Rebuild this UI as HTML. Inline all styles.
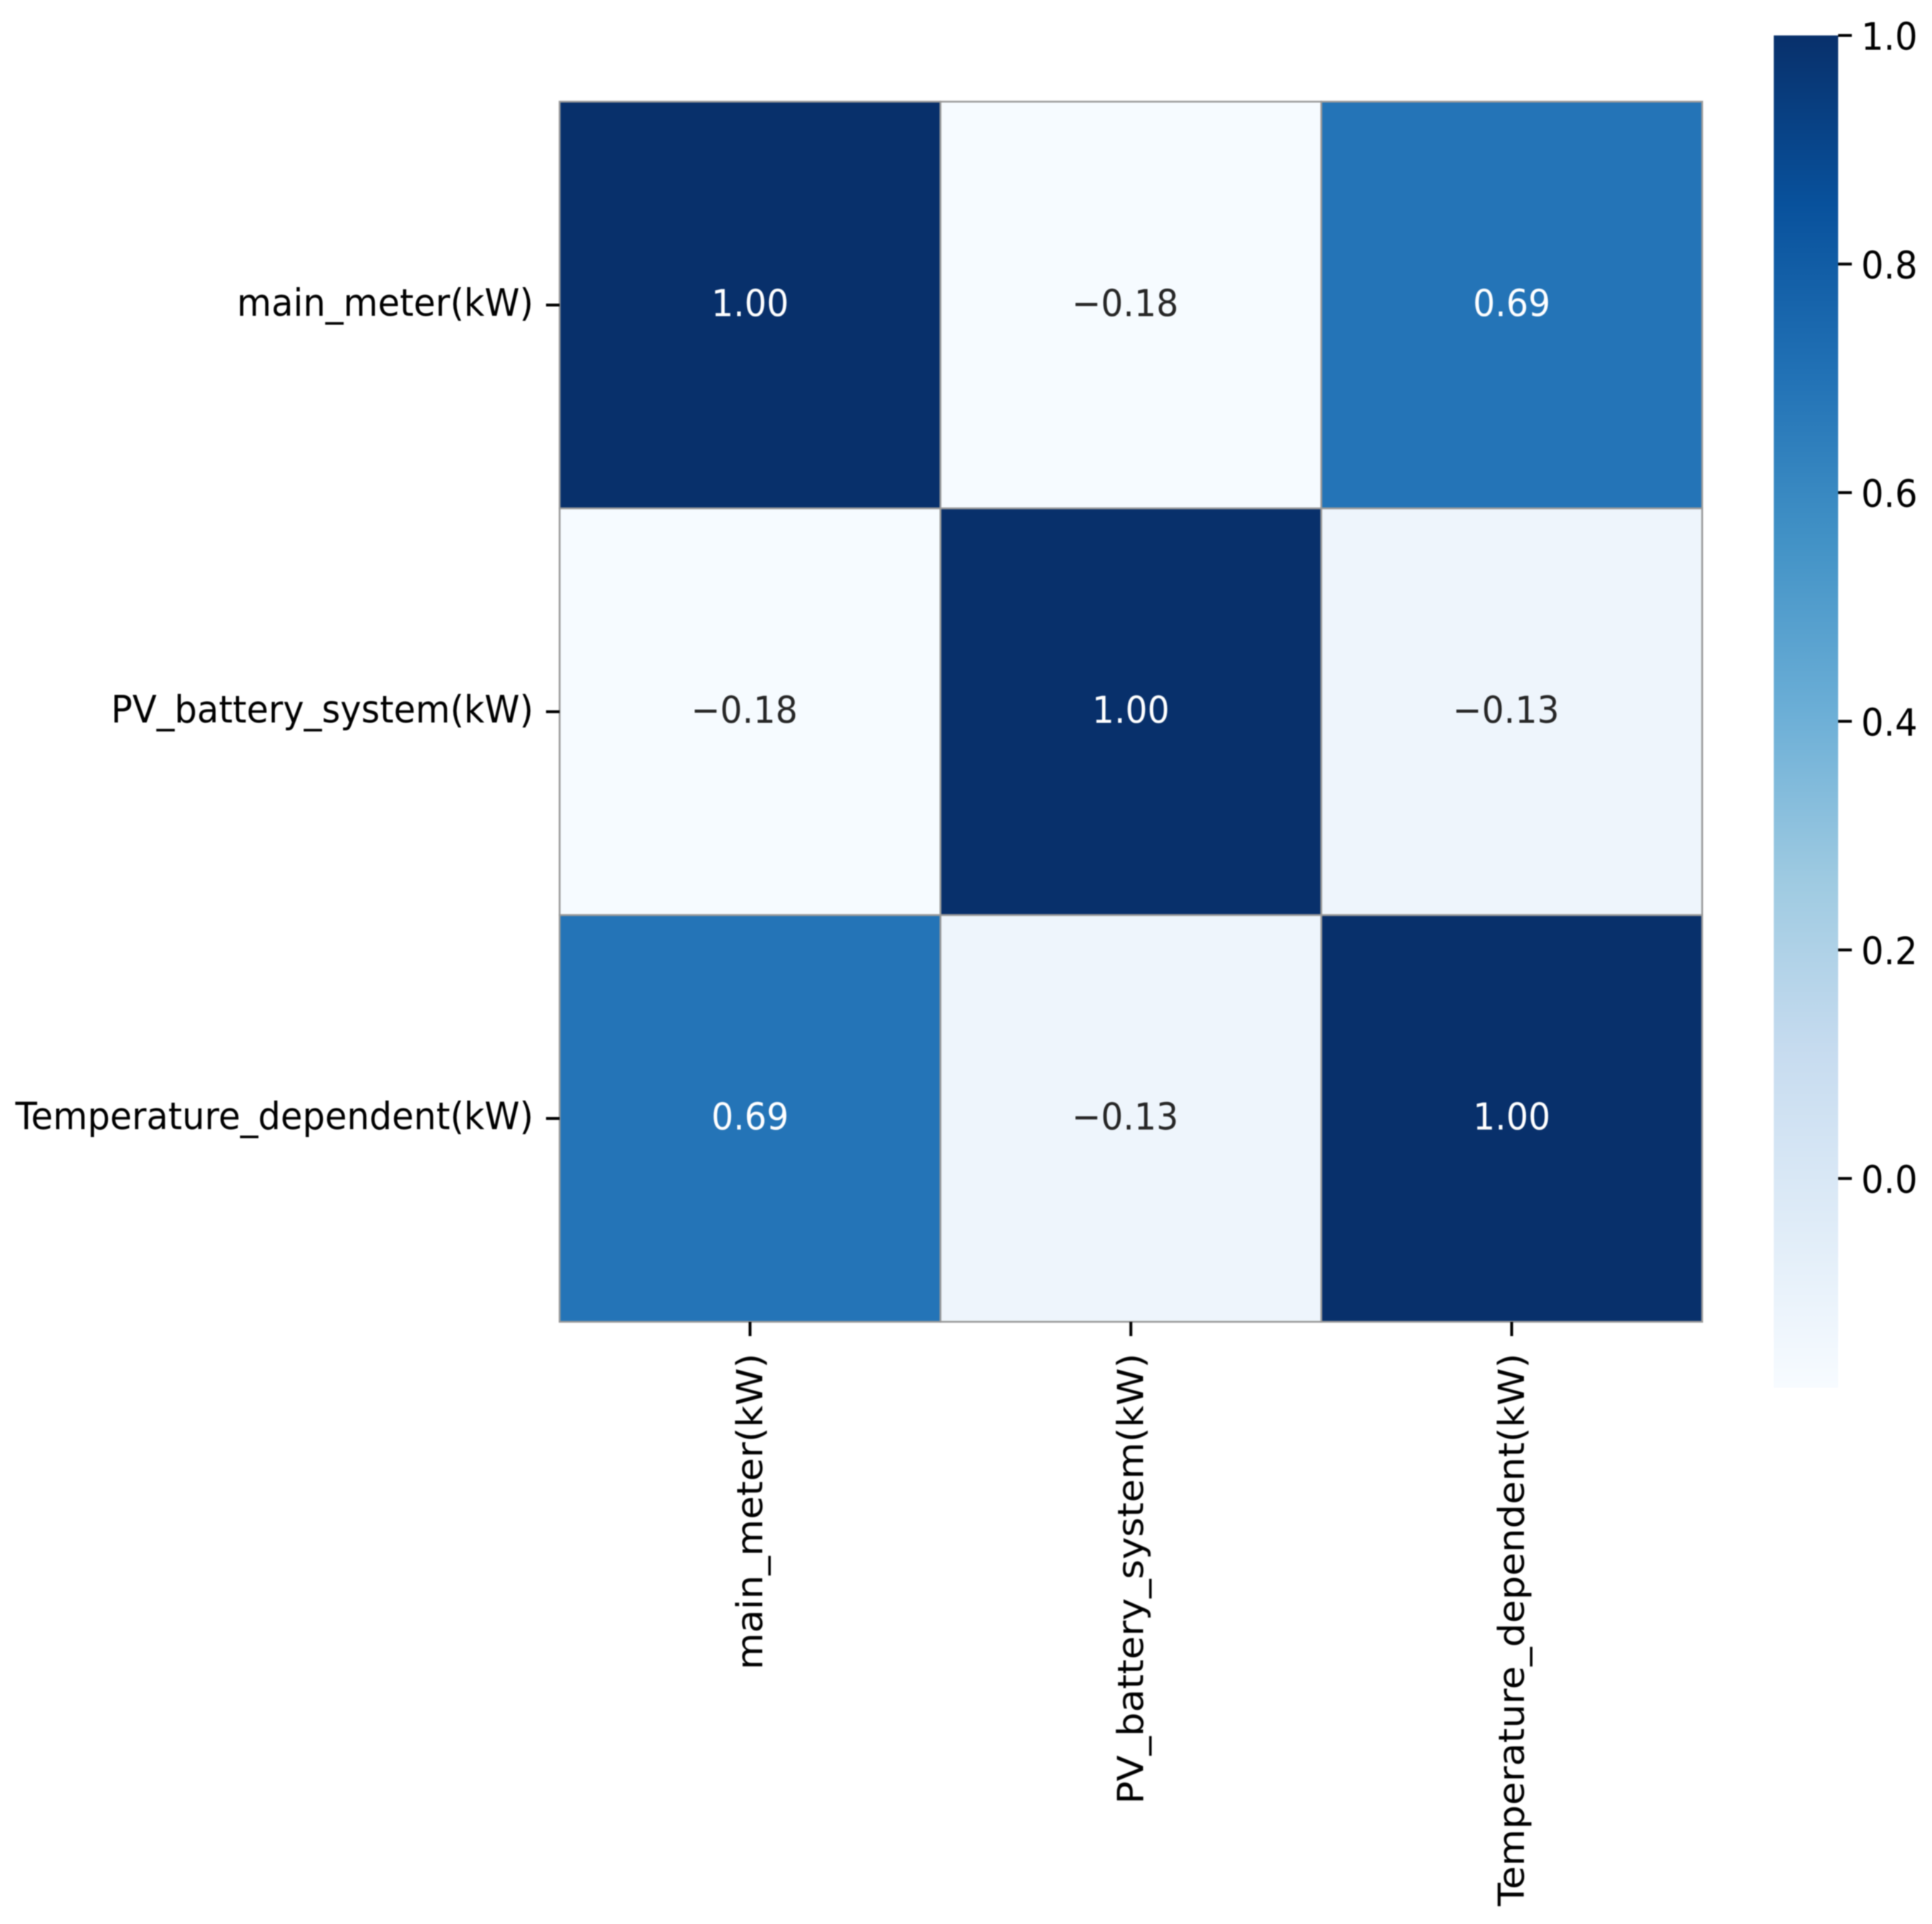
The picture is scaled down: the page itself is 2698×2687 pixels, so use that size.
<!DOCTYPE html>
<html lang="en">
<head>
<meta charset="utf-8">
<title>Correlation heatmap</title>
<style>
  html, body { margin: 0; padding: 0; background: #ffffff; }
  svg { display: block; }
  text { font-family: "DejaVu Sans", "Liberation Sans", sans-serif; }
</style>
</head>
<body>
<svg id="chart" xmlns="http://www.w3.org/2000/svg" width="2698" height="2687" viewBox="0 0 2698 2687">
  <defs>
    <linearGradient id="cbar-gradient" x1="0" y1="0" x2="0" y2="1"></linearGradient>
    <filter id="soften" x="-5%" y="-5%" width="110%" height="110%" color-interpolation-filters="sRGB"><feGaussianBlur stdDeviation="0.9"></feGaussianBlur></filter>
  </defs>
  <rect x="0" y="0" width="2698" height="2687" fill="#ffffff"></rect>
  <g id="root" filter="url(#soften)"></g>
</svg>
<script>
const categories = ["main_meter(kW)", "PV_battery_system(kW)", "Temperature_dependent(kW)"];
const rowOne = [1.00, -0.18, 0.69];
const rowTwo = [-0.18, 1.00, -0.13];
const rowThree = [0.69, -0.13, 1.00];
const matrix = [rowOne, rowTwo, rowThree];
const colorbarTicks = [1.0, 0.8, 0.6, 0.4, 0.2, 0.0];
const colorMin = -0.183;
const colorMax = 1.0;
const blues = ["#f7fbff", "#deebf7", "#c6dbef", "#9ecae1", "#6baed6", "#4292c6", "#2171b5", "#08519c", "#08306b"];

const NS = "http://www.w3.org/2000/svg";
const root = document.getElementById("root");
const plot = { left: 781.5, right: 2377, top: 142, bottom: 1846 };
const cbar = { left: 2477, right: 2567, top: 49.5, bottom: 1938 };
const stretchY = 1.067;
const axisFontSize = 49.6;
const annotFontSize = 48.6;

const xBand = (i) => plot.left + i * (plot.right - plot.left) / categories.length;
const yBand = (i) => plot.top + i * (plot.bottom - plot.top) / categories.length;
const cbarY = (v) => cbar.top + (colorMax - v) / (colorMax - colorMin) * (cbar.bottom - cbar.top);

function hexToRgb(h) {
  return [1, 3, 5].map((p) => parseInt(h.substr(p, 2), 16));
}
function colorFor(v) {
  const t = Math.max(0, Math.min(1, (v - colorMin) / (colorMax - colorMin))) * (blues.length - 1);
  const i = Math.min(blues.length - 2, Math.floor(t));
  const a = hexToRgb(blues[i]);
  const b = hexToRgb(blues[i + 1]);
  const f = t - i;
  return "rgb(" + a.map((c, k) => Math.round(c + (b[k] - c) * f)).join(",") + ")";
}
function shape(tag, attrs) {
  const el = document.createElementNS(NS, tag);
  Object.keys(attrs).forEach((k) => el.setAttribute(k, attrs[k]));
  return el;
}
function label(str, x, y, anchor, fill, rotated, size) {
  const t = shape("text", {
    transform: "translate(" + x + " " + y + ") scale(1 " + stretchY + ")" + (rotated ? " rotate(-90)" : ""),
    "text-anchor": anchor,
    "font-size": size,
    fill: fill
  });
  t.textContent = str;
  return t;
}
function fmt(v) {
  return (v < 0 ? "\u2212" : "") + Math.abs(v).toFixed(2);
}

/* heatmap cells and annotations */
matrix.forEach((row, r) => {
  row.forEach((v, c) => {
    const cell = shape("rect", {
      x: xBand(c), y: yBand(r),
      width: xBand(c + 1) - xBand(c), height: yBand(r + 1) - yBand(r),
      fill: colorFor(v), stroke: "#9a9a9a", "stroke-width": 2.5
    });
    
    
    root.appendChild(cell);
  });
});
matrix.forEach((row, r) => {
  row.forEach((v, c) => {
    const cx = (xBand(c) + xBand(c + 1)) / 2 - (v < 0 ? 8 : 0);
    const cy = (yBand(r) + yBand(r + 1)) / 2;
    const norm = (v - colorMin) / (colorMax - colorMin);
    const ann = label(fmt(v), cx, cy + 15.5, "middle", norm > 0.5 ? "#ffffff" : "#262626", false, annotFontSize);
    
    
    root.appendChild(ann);
  });
});

/* category ticks and labels */
categories.forEach((name, i) => {
  const yc = (yBand(i) + yBand(i + 1)) / 2;
  const xc = (xBand(i) + xBand(i + 1)) / 2;

  const yTick = shape("line", { x1: plot.left - 19, x2: plot.left, y1: yc, y2: yc, stroke: "#000000", "stroke-width": 4 });
  
  
  root.appendChild(yTick);

  const yLabel = label(name, 745, yc + 15, "end", "#000000", false, axisFontSize);
  
  
  root.appendChild(yLabel);

  const xTick = shape("line", { x1: xc, x2: xc, y1: plot.bottom, y2: plot.bottom + 20, stroke: "#000000", "stroke-width": 4 });
  
  
  root.appendChild(xTick);

  const xLabel = label(name, xc + 17, 1890, "end", "#000000", true, axisFontSize);
  
  
  root.appendChild(xLabel);
});

/* colorbar */
const gradient = document.getElementById("cbar-gradient");
blues.slice().reverse().forEach((col, i) => {
  const stop = shape("stop", { offset: i / (blues.length - 1), "stop-color": col });
  gradient.appendChild(stop);
});
const cbarRect = shape("rect", {
  x: cbar.left, y: cbarY(colorMax),
  width: cbar.right - cbar.left, height: cbarY(colorMin) - cbarY(colorMax),
  fill: "url(#cbar-gradient)"
});


root.appendChild(cbarRect);

colorbarTicks.forEach((v) => {
  const y = cbarY(v);
  const tick = shape("line", { x1: cbar.right, x2: cbar.right + 19, y1: y, y2: y, stroke: "#000000", "stroke-width": 4 });
  
  
  root.appendChild(tick);

  const txt = label(v.toFixed(1), 2599, y + 20, "start", "#000000", false, axisFontSize);
  
  
  root.appendChild(txt);
});
</script>
</body>
</html>
